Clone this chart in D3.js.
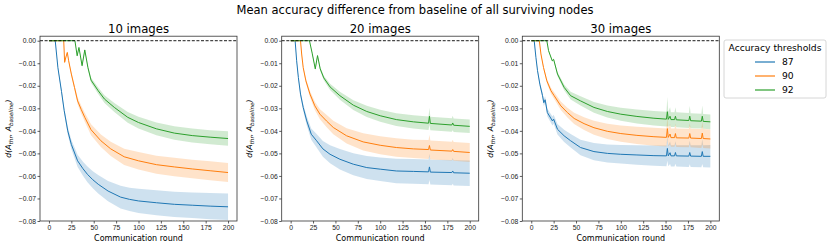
<!DOCTYPE html>
<html>
<head>
<meta charset="utf-8">
<script src="https://cdn.jsdelivr.net/npm/d3@7"></script>
<style>
  body { margin: 0; background: #fff; }
  svg { font-family: "DejaVu Sans", sans-serif; }
  .tick line { stroke: #333; stroke-width: 0.8; }
  .tick text { font-size: 6.8px; fill: #222; }
</style>
</head>
<body>
<div id="chart"></div>
<script>
// [round, mean difference, spread]
var img10_t87 = [[0,0,0],[7,0,0],[10,-0.012,0.0005],[14,-0.0225,0.001],[17,-0.031,0.0013],[21,-0.040,0.0017],[25,-0.046,0.002],[32,-0.0533,0.0027],[38,-0.0568,0.0031],[43,-0.0593,0.0035],[49,-0.0617,0.0038],[55,-0.0637,0.0041],[66,-0.0667,0.0045],[80,-0.0694,0.005],[90,-0.0704,0.0052],[100,-0.0711,0.0054],[120,-0.0719,0.0055],[140,-0.0726,0.0056],[160,-0.073,0.0057],[180,-0.0734,0.0058],[200,-0.0737,0.0059]];
var img10_t90 = [[0,0,0],[16.5,0,0],[17.5,-0.0096,0.0005],[19,-0.0072,0.0005],[20.5,-0.0052,0.0004],[22,-0.0089,0.0006],[25,-0.0148,0.0009],[28.5,-0.0207,0.0012],[32,-0.0267,0.0015],[36,-0.0305,0.0018],[40,-0.034,0.002],[47,-0.0395,0.0024],[58,-0.0444,0.0028],[69,-0.048,0.0032],[84,-0.0515,0.0036],[100,-0.0533,0.0039],[120,-0.055,0.004],[140,-0.056,0.0041],[160,-0.0569,0.0041],[180,-0.0577,0.0042],[200,-0.0585,0.0042]];
var img10_t92 = [[0,0,0],[29,0,0],[31.5,-0.0067,0.0004],[33.5,-0.003,0.0003],[37,-0.0111,0.0006],[40,-0.0041,0.0005],[43.5,-0.0119,0.0008],[47,-0.0175,0.0011],[55,-0.0222,0.0014],[62,-0.0259,0.0017],[73,-0.0296,0.002],[88,-0.034,0.0024],[100,-0.0363,0.0026],[120,-0.0391,0.0028],[140,-0.041,0.003],[160,-0.0421,0.0031],[180,-0.0428,0.0031],[200,-0.0434,0.0032]];

var img20_t87 = [[0,0,0],[5,0,0],[6.7,-0.0089,0.0004],[8.6,-0.0163,0.0008],[11,-0.0237,0.0012],[14,-0.0296,0.0015],[18,-0.0356,0.002],[23,-0.0415,0.0025],[29,-0.0444,0.003],[36,-0.048,0.0035],[44,-0.0504,0.004],[55,-0.0526,0.0045],[70,-0.0548,0.0049],[85,-0.0563,0.0051],[100,-0.057,0.0052],[118,-0.0578,0.0054],[137,-0.058,0.0055],[154,-0.0582,0.0055],[155,-0.056,0.0058],[156,-0.0583,0.0055],[180,-0.0585,0.0056],[181,-0.0578,0.0057],[182,-0.0586,0.0056],[200,-0.0588,0.0057]];
var img20_t90 = [[0,0,0],[11,0,0],[12.3,-0.0059,0.0003],[14,-0.0119,0.0006],[17,-0.0178,0.001],[21.6,-0.0237,0.0014],[27,-0.0289,0.0018],[32.7,-0.0326,0.0022],[40,-0.0356,0.0027],[47.6,-0.0385,0.003],[62.5,-0.0422,0.0034],[81,-0.0449,0.0038],[100,-0.0464,0.004],[118,-0.0474,0.0041],[137,-0.048,0.0041],[154,-0.0483,0.0042],[155,-0.0465,0.0048],[156,-0.0485,0.0042],[180,-0.049,0.0042],[181,-0.0483,0.0044],[182,-0.0491,0.0042],[200,-0.0496,0.0042]];
var img20_t92 = [[0,0,0],[21,0,0],[24,-0.0055,0.0003],[27.5,-0.0125,0.0007],[30,-0.0066,0.0005],[33,-0.0125,0.0008],[37,-0.0165,0.001],[44,-0.0205,0.0014],[55,-0.0244,0.0018],[70,-0.0286,0.0022],[85,-0.0314,0.0025],[100,-0.0333,0.0027],[118,-0.035,0.0028],[137,-0.036,0.0029],[154,-0.0366,0.003],[155,-0.0335,0.0038],[156,-0.0367,0.003],[180,-0.0374,0.003],[181,-0.0365,0.0032],[182,-0.0375,0.003],[200,-0.038,0.003]];

var img30_t87 = [[0,0,0],[3.3,0,0],[5.2,-0.0074,0.0004],[7,-0.0133,0.0007],[9.6,-0.0193,0.001],[12.6,-0.0244,0.0013],[14,-0.0275,0.0015],[15.5,-0.0262,0.0015],[18,-0.0319,0.0017],[23.7,-0.0356,0.002],[25,-0.0348,0.002],[29.3,-0.0393,0.0023],[36.7,-0.0422,0.0027],[44,-0.0444,0.003],[55,-0.0474,0.0034],[70,-0.0492,0.0038],[85,-0.05,0.004],[100,-0.0504,0.0041],[118,-0.0507,0.0043],[137,-0.051,0.0045],[151,-0.0511,0.0046],[152,-0.0478,0.0055],[153,-0.0511,0.0046],[155,-0.0497,0.005],[156,-0.0511,0.0047],[160,-0.0511,0.0047],[161,-0.0496,0.005],[162,-0.0511,0.0047],[176,-0.0512,0.0048],[177,-0.0496,0.0052],[178,-0.0512,0.0048],[190,-0.0513,0.0049],[191,-0.0492,0.0055],[192,-0.0513,0.0049],[200,-0.0513,0.005]];
var img30_t90 = [[0,0,0],[9,0,0],[10.8,-0.0059,0.0003],[13.7,-0.0119,0.0006],[17.4,-0.0178,0.001],[22,-0.0222,0.0013],[25.6,-0.0244,0.0015],[33,-0.0289,0.0019],[40.4,-0.0319,0.0022],[47.9,-0.0345,0.0025],[59,-0.0368,0.0028],[70,-0.0386,0.0031],[85,-0.0402,0.0034],[100,-0.0412,0.0036],[118,-0.042,0.0038],[137,-0.0426,0.004],[151,-0.0429,0.004],[152,-0.039,0.005],[153,-0.0429,0.004],[155,-0.0414,0.0045],[156,-0.043,0.004],[160,-0.043,0.0041],[161,-0.0412,0.0045],[162,-0.0431,0.0041],[176,-0.0432,0.0041],[177,-0.0412,0.0046],[178,-0.0432,0.0041],[190,-0.0434,0.0042],[191,-0.041,0.005],[192,-0.0434,0.0042],[200,-0.0436,0.0042]];
var img30_t92 = [[0,0,0],[17.4,0,0],[19.3,-0.0044,0.0003],[23.4,-0.0089,0.0005],[25,-0.0083,0.0005],[29.3,-0.0148,0.0009],[36.7,-0.0207,0.0013],[44,-0.0244,0.0017],[55,-0.0267,0.002],[70,-0.0296,0.0024],[85,-0.0314,0.0027],[100,-0.0326,0.0029],[118,-0.0336,0.0031],[137,-0.0344,0.0032],[151,-0.0348,0.0033],[152,-0.0315,0.0065],[153,-0.0349,0.0033],[155,-0.0335,0.004],[156,-0.035,0.0033],[160,-0.035,0.0033],[161,-0.0335,0.004],[162,-0.0351,0.0033],[176,-0.0354,0.0033],[177,-0.0335,0.0045],[178,-0.0355,0.0033],[190,-0.0357,0.0033],[191,-0.0335,0.0048],[192,-0.0358,0.0033],[200,-0.036,0.0033]];

var panelTitles = ["10 images", "20 images", "30 images"];
var thresholds = ["87", "90", "92"];
var panelSeries = [
	[img10_t87, img10_t90, img10_t92],
	[img20_t87, img20_t90, img20_t92],
	[img30_t87, img30_t90, img30_t92]
];
var xTicks = [0, 25, 50, 75, 100, 125, 150, 175, 200];
var yTicks = [0, -0.01, -0.02, -0.03, -0.04, -0.05, -0.06, -0.07, -0.08];

var colors = ["#1f77b4", "#ff7f0e", "#2ca02c"];

var W = 830, H = 247;
var svg = d3.select("#chart").append("svg")
	.attr("width", W)
	.attr("height", H);

var panelLeft = [40, 281.7, 522.3],
	panelW = 197,
	plotTop = 36.2,
	plotBottom = 221;

var y = d3.scaleLinear().domain([-0.08, 0.002]).range([plotBottom, plotTop]);

svg.append("text")
	.attr("x", 415).attr("y", 14)
	.attr("text-anchor", "middle")
	.style("font-size", "11.5px")
	.text("Mean accuracy difference from baseline of all surviving nodes");

panelSeries.forEach(function(series, p) {
	var x = d3.scaleLinear().domain([-10, 210]).range([panelLeft[p], panelLeft[p] + panelW]);
	var g = svg.append("g");

	var area = d3.area()
		.x(function(d) { return x(d[0]); })
		.y0(function(d) { return y(d[1] - d[2]); })
		.y1(function(d) { return y(d[1] + d[2]); });
	var line = d3.line()
		.x(function(d) { return x(d[0]); })
		.y(function(d) { return y(d[1]); });

	// bands first, then the mean lines on top
	series.forEach(function(s, i) {
		g.append("path")
			.attr("d", area(s))
			.attr("fill", colors[i])
			.attr("fill-opacity", 0.22);
	});
	series.forEach(function(s, i) {
		g.append("path")
			.attr("d", line(s))
			.attr("fill", "none")
			.attr("stroke", colors[i])
			.attr("stroke-width", 1);
	});

	// baseline
	g.append("line")
		.attr("x1", panelLeft[p]).attr("x2", panelLeft[p] + panelW)
		.attr("y1", y(0)).attr("y2", y(0))
		.attr("stroke", "#000")
		.attr("stroke-width", 0.9)
		.attr("stroke-dasharray", "3,1.6");

	g.append("g")
		.attr("transform", "translate(0," + plotBottom + ")")
		.call(d3.axisBottom(x).tickValues(xTicks).tickSize(2.5).tickPadding(1.5).tickFormat(d3.format("d")));
	g.append("g")
		.attr("transform", "translate(" + panelLeft[p] + ",0)")
		.call(d3.axisLeft(y).tickValues(yTicks).tickSize(2.5).tickPadding(1.5).tickFormat(d3.format(".2f")));
	g.selectAll(".domain").remove();

	// frame
	g.append("rect")
		.attr("x", panelLeft[p]).attr("y", plotTop)
		.attr("width", panelW).attr("height", plotBottom - plotTop)
		.attr("fill", "none")
		.attr("stroke", "#333")
		.attr("stroke-width", 0.8);

	g.append("text")
		.attr("x", panelLeft[p] + panelW / 2).attr("y", 33.3)
		.attr("text-anchor", "middle")
		.style("font-size", "11.7px")
		.text(panelTitles[p]);

	g.append("text")
		.attr("x", panelLeft[p] + panelW / 2).attr("y", 240.7)
		.attr("text-anchor", "middle")
		.style("font-size", "8px")
		.text("Communication round");

	var yl = g.append("text")
		.attr("transform", "translate(" + (panelLeft[p] - 29.5) + "," + ((plotTop + plotBottom) / 2) + ") rotate(-90)")
		.attr("text-anchor", "middle")
		.style("font-size", "7.8px")
		.style("font-style", "italic");
	yl.append("tspan").text("d(A");
	yl.append("tspan").attr("baseline-shift", "-25%").style("font-size", "5.6px").text("thr");
	yl.append("tspan").text(", A");
	yl.append("tspan").attr("baseline-shift", "-25%").style("font-size", "5.6px").text("baseline");
	yl.append("tspan").text(")");
});

// legend
var lg = svg.append("g");
lg.append("rect")
	.attr("x", 724).attr("y", 40)
	.attr("width", 102).attr("height", 58)
	.attr("rx", 2)
	.attr("fill", "#fff")
	.attr("fill-opacity", 0.8)
	.attr("stroke", "#ccc")
	.attr("stroke-width", 0.8);
lg.append("text")
	.attr("x", 775).attr("y", 51)
	.attr("text-anchor", "middle")
	.style("font-size", "9.2px")
	.text("Accuracy thresholds");
thresholds.forEach(function(t, i) {
	var ly = 62 + i * 14;
	lg.append("line")
		.attr("x1", 755).attr("x2", 775)
		.attr("y1", ly).attr("y2", ly)
		.attr("stroke", colors[i])
		.attr("stroke-width", 1.2);
	lg.append("text")
		.attr("x", 782).attr("y", ly + 3.3)
		.style("font-size", "9.2px")
		.text(t);
});
</script>
</body>
</html>
